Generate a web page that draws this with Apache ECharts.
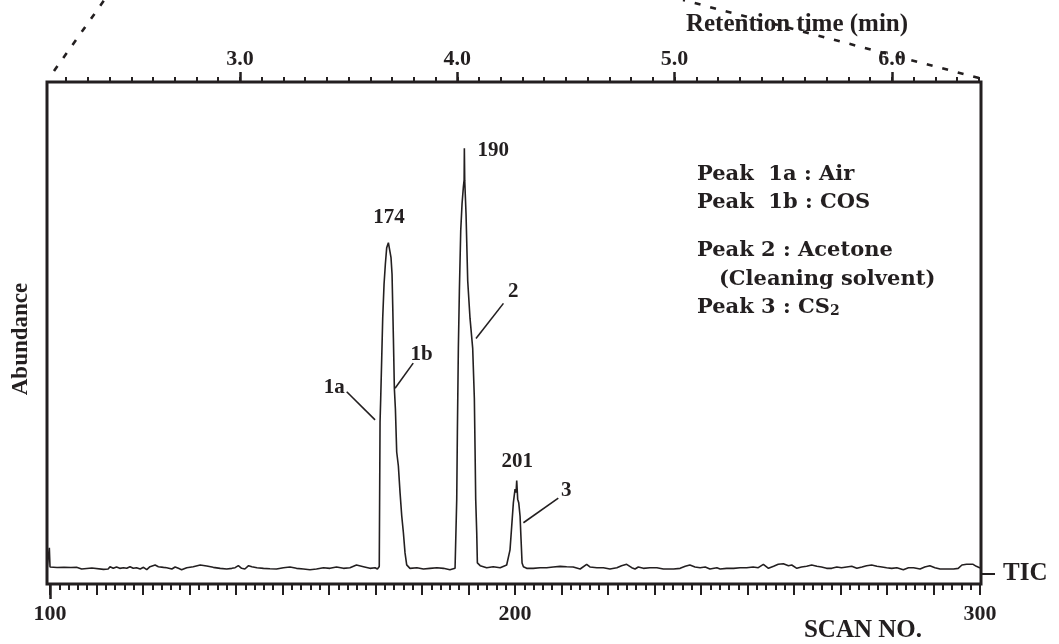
<!DOCTYPE html>
<html><head><meta charset="utf-8">
<script src="https://cdn.jsdelivr.net/npm/echarts@6/dist/echarts.min.js"></script>
<style>html,body{margin:0;padding:0;background:#fff}#c{width:1059px;height:644px}</style>
</head><body><div id="c"></div>
<script>
// ---- data: total ion chromatogram, [scan no., abundance (0-100 scale)] ----
const baselineStart = [[99.4,3.4],[99.85,7.2],[100.0,3.4],[100.2,3.32],[101.5,3.30],[103,3.32],[104.5,3.28],[105.7,3.32],[106.1,2.99],[106.8,2.99],[107.2,3.19],[109.0,3.19],[109.3,2.92],[111.5,2.92],[111.8,3.25],[112.5,2.99],[112.9,3.45],[113.6,3.12],[114.3,3.39],[115.0,3.12],[115.8,3.25],[116.5,3.12],[117.2,3.45],[117.9,3.12],[118.6,3.25],[119.4,2.99],[120.1,3.32],[120.8,2.85],[121.5,3.45],[122.6,3.78],[123.3,3.45],[124.4,3.32],[125.1,3.25],[126.2,2.99],[126.9,3.39],[127.6,3.12],[128.3,2.85],[129.4,3.25],[130.8,3.45],[132.3,3.78],[133.7,3.58],[135.1,3.32],[136.6,3.12],[138.0,2.99],[139.1,3.12],[139.8,3.25],[140.5,3.65],[141.2,3.12],[141.9,2.99],[142.7,3.65],[143.4,3.45],[144.5,3.25],[145.9,3.12],[147.3,3.05],[148.7,2.99],[150.2,3.25],[151.6,3.39],[153.0,3.12],[154.5,2.99],[155.9,2.85],[157.3,2.99],[158.8,3.25],[160.2,3.12],[161.6,3.39],[163.1,3.12],[164.5,3.25],[165.9,3.78],[167.4,3.45],[168.8,3.12],[169.9,3.25],[170.4,3.0]];
const peak1 = [[170.8,3.5],[170.97,32.3],[171.11,36.9],[171.33,45.0],[171.54,52.9],[171.83,59.7],[172.11,63.7],[172.40,67.0],[172.76,68.0],[173.12,67.7],[173.33,65.0],[173.55,61.7],[173.69,55.7],[173.84,49.0],[174.05,38.9],[174.27,34.9],[174.55,26.3],[174.91,23.5],[175.27,18.2],[175.63,13.6],[175.99,10.2],[176.34,6.2],[176.70,3.8]];
const between12 = [[177.4,3.12],[178.9,3.25],[180.3,2.99],[181.7,3.12],[183.2,3.25],[184.6,3.12],[186.0,2.85],[187.1,3.12]];
const peak2 = [[187.31,3.5],[187.46,16.9],[187.60,30.3],[187.81,47.0],[188.03,58.4],[188.32,70.4],[188.60,75.7],[188.89,79.1],[189.05,80.5],[189.10,86.8],[189.18,80.4],[189.32,77.1],[189.46,73.7],[189.82,60.4],[190.32,52.9],[190.89,47.0],[191.25,36.9],[191.40,26.9],[191.54,16.9],[191.76,10.2],[191.90,4.2]];
const between23 = [[192.5,3.65],[193.9,3.25],[195.3,3.45],[196.8,3.25],[198.2,3.78],[198.57,3.5]];
const peak3 = [[198.92,6.8],[199.28,11.5],[199.64,16.2],[200.0,18.9],[200.22,18.2],[200.36,20.6],[200.57,16.9],[200.79,16.2],[201.08,13.5],[201.29,8.9],[201.51,4.2],[201.8,3.45]];
const baselineEnd = [[202.5,3.12],[203.9,3.12],[205.4,3.25],[206.8,3.25],[208.2,3.39],[209.7,3.52],[211.1,3.45],[212.5,3.39],[214.0,2.99],[215.4,3.92],[216.1,3.39],[217.6,3.25],[219.0,3.25],[220.4,2.99],[221.9,3.25],[222.9,3.65],[224.0,3.92],[225.1,3.25],[225.8,2.99],[226.5,3.39],[227.6,3.12],[229.0,3.25],[230.5,3.25],[231.9,2.99],[234.1,2.99],[235.5,3.12],[236.6,3.52],[237.6,3.78],[238.7,3.39],[239.8,3.25],[240.9,3.39],[241.9,2.99],[243.4,3.25],[244.1,2.99],[245.5,3.12],[247.0,3.12],[248.4,3.25],[249.8,3.25],[251.2,3.39],[252.3,3.25],[253.4,3.92],[254.5,3.12],[255.6,3.52],[256.6,3.92],[257.7,4.05],[258.8,3.65],[259.5,3.78],[260.6,3.12],[261.6,3.39],[262.7,3.52],[263.8,3.78],[264.9,3.52],[265.9,3.39],[267.0,3.12],[268.1,3.12],[269.2,3.39],[270.2,3.25],[271.3,3.39],[272.4,3.52],[273.5,3.12],[274.6,3.39],[275.6,3.65],[276.7,3.78],[277.8,3.52],[278.9,3.39],[279.9,3.25],[281.0,3.12],[282.1,3.25],[283.5,2.85],[284.6,3.25],[285.7,3.25],[287.1,2.99],[288.1,3.39],[289.2,3.65],[290.3,3.25],[291.4,2.99],[292.8,2.99],[294.3,2.99],[295.3,3.12],[296.1,3.78],[297.1,3.92],[298.5,3.92],[299.2,3.52],[299.9,3.25],[300.2,3.25]];

// ---- axis tick labels ----
const scanLabels = [100, 200, 300];
const timeLabels = [3.0, 4.0, 5.0, 6.0];
const ticLabel = 'TIC';
const ticLevel = 2.0;

// ---- annotations (data coordinates) ----
const annotText = ['174', '190', '201', '1a', '1b', '2', '3'];
const annotAt = [[172.9,72.9],[195.3,86.4],[200.5,24.4],[161.1,39.2],[179.9,45.8],[199.6,58.3],[211.0,18.7]];
const pointerFrom = [[163.8,38.3],[178.1,44.0],[197.5,55.9],[209.3,17.1]];
const pointerTo = [[169.9,32.7],[174.2,39.0],[191.6,48.9],[201.8,12.2]];

const legendLines = ['Peak  1a : Air', 'Peak  1b : COS', 'Peak 2 : Acetone', '   (Cleaning solvent)', 'Peak 3 : CS{s|2}'];

(function () {
const INK = '#231f20';
const SERIF = '"Liberation Serif", "Times New Roman", serif';
const LEG = '"DejaVu Serif", serif';
const ticData = [].concat(baselineStart, peak1, between12, peak2, between23, peak3, baselineEnd);

const scanMajor = [], scanMinor = [], timeMinor = [];
for (let s = 100; s <= 300; s += 2) { scanMinor.push(s); if (s % 10 === 0) scanMajor.push(s); }
for (let k = 22; k <= 64; k++) timeMinor.push(k / 10);

const SCAN_MIN = 99.35, SCAN_MAX = 300.2, T_MIN = 2.112, T_MAX = 6.41;
function xAx(extra) {
  return Object.assign({
    type: 'value', min: SCAN_MIN, max: SCAN_MAX, position: 'bottom',
    axisLine: {show: false}, splitLine: {show: false},
    axisLabel: {show: false}, axisTick: {show: false}
  }, extra);
}
const tickStyle = w => ({color: INK, width: w});

const chart = echarts.init(document.getElementById('c'), null, {renderer: 'canvas'});
chart.setOption({
  animation: false,
  backgroundColor: '#fff',
  grid: {left: 47, right: 78, top: 82, bottom: 60, show: true, borderColor: INK, borderWidth: 3, backgroundColor: 'transparent'},
  xAxis: [
    xAx({axisTick: {show: true, customValues: scanMajor, length: 11, lineStyle: tickStyle(2)},
         axisLabel: {show: true, customValues: scanLabels, margin: 19, color: INK, fontFamily: SERIF, fontWeight: 'bold', fontSize: 22}}),
    xAx({axisTick: {show: true, customValues: scanMinor, length: 6, lineStyle: tickStyle(2)}}),
    xAx({axisTick: {show: true, customValues: [scanLabels[0]], length: 15, lineStyle: tickStyle(2.5)}}),
    xAx({min: T_MIN, max: T_MAX, position: 'top',
         axisTick: {show: true, customValues: timeLabels, length: 10, lineStyle: tickStyle(2.5)},
         axisLabel: {show: true, customValues: timeLabels, margin: 12, formatter: v => v.toFixed(1), color: INK, fontFamily: SERIF, fontWeight: 'bold', fontSize: 22}}),
    xAx({min: T_MIN, max: T_MAX, position: 'top',
         axisTick: {show: true, customValues: timeMinor, length: 5, lineStyle: tickStyle(2)}})
  ],
  yAxis: [
    {type: 'value', min: 0, max: 100, position: 'left', axisLine: {show: false}, axisTick: {show: false}, axisLabel: {show: false}, splitLine: {show: false}},
    {type: 'value', min: 0, max: 100, position: 'right', axisLine: {show: false}, splitLine: {show: false},
     axisTick: {show: true, customValues: [ticLevel], length: 14, lineStyle: tickStyle(2)},
     axisLabel: {show: true, customValues: [ticLevel], formatter: () => ticLabel, margin: 22, color: INK, fontFamily: SERIF, fontWeight: 'bold', fontSize: 25}}
  ],
  series: [
    {type: 'line', xAxisIndex: 0, yAxisIndex: 0, data: ticData, symbol: 'none', showSymbol: false,
     lineStyle: {color: INK, width: 1.6}, z: 3, silent: true,
     markLine: {silent: true, symbol: 'none', animation: false, label: {show: false},
       lineStyle: {color: INK, width: 1.6, type: 'solid'},
       data: pointerFrom.map((p, i) => [{coord: p}, {coord: pointerTo[i]}])}},
    {type: 'scatter', xAxisIndex: 0, yAxisIndex: 0, symbolSize: 1, silent: true,
     itemStyle: {color: 'rgba(0,0,0,0)', opacity: 1},
     data: annotText.map((t, i) => ({name: t, value: annotAt[i]})),
     label: {show: true, position: 'inside', formatter: '{b}', color: INK, opacity: 1, fontFamily: SERIF, fontWeight: 'bold', fontSize: 21}}
  ]
});

const pxLeft = chart.convertToPixel({xAxisIndex: 3}, T_MIN);
const pxRight = chart.convertToPixel({xAxisIndex: 3}, T_MAX);
const pxTop = chart.convertToPixel({yAxisIndex: 0}, 100);
const dash = {stroke: INK, lineWidth: 2.6, lineDash: [6, 10]};
const txt = (text, x, y, size, extra) => Object.assign({type: 'text', x: x, y: y, z: 10,
  style: {text: text, fill: INK, fontFamily: SERIF, fontWeight: 'bold', fontSize: size, align: 'center', verticalAlign: 'middle'}}, extra || {});
const legendY = [174.2, 202.5, 250.8, 279.2, 307.5];
chart.setOption({graphic: [
  {type: 'line', z: 5, shape: {x1: pxLeft + 7, y1: pxTop - 11, x2: pxLeft + 58, y2: pxTop - 83}, style: dash},
  {type: 'line', z: 5, shape: {x1: pxRight - 2, y1: pxTop - 4, x2: pxRight - 298, y2: pxTop - 82}, style: dash},
  txt('Retention time (min)', 797, 25, 25),
  txt('SCAN NO.', 863, 631, 25),
  txt('Abundance', 21, 339, 23, {rotation: Math.PI / 2})
].concat(legendLines.map((t, i) => ({type: 'text', x: 697, y: legendY[i], z: 10,
  style: {text: t, fill: INK, fontFamily: LEG, fontWeight: 'bold', fontSize: 21, align: 'left', verticalAlign: 'middle',
    rich: {s: {fontFamily: LEG, fontWeight: 'bold', fontSize: 14, fill: INK, verticalAlign: 'bottom'}}}})))
});
})();
</script></body></html>
